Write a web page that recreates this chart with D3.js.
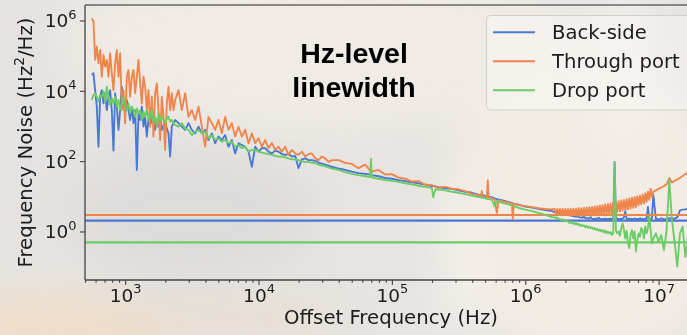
<!DOCTYPE html>
<html>
<head>
<meta charset="utf-8">
<script src="https://cdn.jsdelivr.net/npm/d3@7"></script>
<style>
  html, body { margin: 0; padding: 0; background: #e8e5e2; }
  svg { display: block; }
</style>
</head>
<body>
<svg id="chart" width="687" height="335"></svg>
<script>
// Offset frequency grid, stored as log10(Hz)
const offsetExp = [
  2.75,2.7625,2.775,2.7875,2.8,2.8125,2.825,2.8375,2.85,2.8625,
  2.875,2.8875,2.9,2.9125,2.925,2.9375,2.95,2.9625,2.975,2.9875,
  3,3.0125,3.025,3.0375,3.05,3.0625,3.075,3.0875,3.1,3.1125,
  3.125,3.1375,3.15,3.1625,3.175,3.1875,3.2,3.2125,3.225,3.2375,
  3.25,3.2625,3.275,3.2875,3.3,3.3125,3.325,3.3375,3.35,3.3625,
  3.375,
  3.4,3.425,3.45,3.475,3.5,3.525,
  3.55,3.575,3.6,3.625,3.65,3.675,3.7,3.725,3.75,3.775,
  3.8,3.825,3.85,3.875,3.9,3.925,3.95,3.975,4,4.025,
  4.05,4.075,4.1,4.125,4.15,4.175,4.2,4.225,4.25,4.275,
  4.3,4.325,4.35,4.375,4.4,4.425,4.45,4.475,4.5,4.525,
  4.55,
  4.6,4.65,4.7,4.75,4.8,4.836,4.843,4.85,4.9,4.95,
  5,5.05,5.1,5.15,5.2,5.25,5.3,5.31,5.325,5.35,
  5.4,5.45,5.5,5.55,5.6,5.65,5.67,5.674,5.68,5.7,
  5.712,5.719,5.726,5.75,5.77,5.787,5.8,5.85,5.9,5.906,
  5.915,5.95,6,6.05,6.1,6.15,6.2,
  6.22,6.23,6.24,6.25,6.26,6.27,6.28,6.29,6.3,6.31,
  6.32,6.33,6.34,6.35,6.36,6.37,6.38,6.39,6.4,6.41,
  6.42,6.43,6.44,6.45,6.46,6.47,6.48,6.49,6.5,6.51,
  6.52,6.53,6.54,6.55,6.56,6.57,6.58,6.59,6.6,6.61,
  6.62,6.63,6.64,6.65,6.66,6.67,6.68,6.69,6.7,6.71,
  6.72,6.73,6.74,6.75,6.76,6.77,6.78,6.79,6.8,6.81,
  6.82,6.83,6.84,6.85,6.86,6.87,6.88,6.89,6.9,6.91,
  6.92,6.93,6.94,6.95,6.96,
  6.98,7,7.02,7.04,7.06,7.08,7.1,7.12,7.14,7.16,7.18,7.2,7.22
];

// Frequency noise, log10(Hz^2/Hz), one value per grid point
const backSideExp = [
  4.45,4.50,4.02,3.55,2.41,3.83,4.02,3.64,3.93,3.45,
  3.83,4.02,3.45,2.30,3.93,3.55,2.89,3.45,4.12,3.64,
  3.36,3.74,3.45,3.17,3.55,3.08,3.45,1.75,3.36,3.17,
  3.55,2.98,3.26,2.70,3.17,3.45,3.08,3.26,2.89,3.17,
  2.98,3.17,2.89,3.03,3.08,2.93,2.79,2.13,2.98,3.08,
  3.17,
  3.08,2.98,2.89,3.08,2.89,2.79,
  2.98,2.79,2.89,2.60,2.79,2.51,2.70,2.60,2.74,2.41,
  2.60,2.22,2.51,2.46,2.41,2.27,1.84,2.41,2.27,2.37,
  2.37,2.27,2.22,2.30,2.27,2.20,2.18,2.20,2.13,2.15,
  1.80,2.05,2.08,2.03,2.03,2.01,1.96,1.93,1.90,1.87,
  1.84,
  1.79,1.75,1.70,1.66,1.64,1.62,1.61,1.60,1.57,1.52,
  1.50,1.46,1.43,1.40,1.37,1.33,1.29,1.29,1.28,1.26,
  1.23,1.21,1.17,1.13,1.10,1.05,1.04,1.03,1.03,1.01,
  1.00,0.99,0.99,0.97,0.94,0.92,0.91,0.86,0.81,0.80,
  0.79,0.76,0.71,0.68,0.64,0.61,0.58,
  0.55,0.54,0.53,0.53,0.51,0.50,0.50,0.49,0.48,0.48,
  0.47,0.46,0.46,0.44,0.44,0.43,0.42,0.43,0.41,0.40,
  0.40,0.39,0.42,0.38,0.38,0.37,0.37,0.41,0.36,0.36,
  0.35,0.37,0.35,0.39,0.36,0.34,0.36,0.35,0.37,0.34,
  0.36,0.35,0.37,0.35,0.36,1.98,0.35,0.37,0.34,0.36,
  0.35,0.37,0.40,0.58,0.36,0.34,0.37,0.35,0.36,0.34,
  0.37,0.35,0.36,0.34,0.38,0.35,0.36,0.34,0.37,0.36,
  0.70,0.36,0.35,0.38,1.04,
  0.36,0.34,0.37,0.35,0.36,0.38,0.36,0.37,0.40,0.60,0.62,0.63,0.65
];

const throughPortExp = [
  6.06,5.97,4.88,5.26,4.78,5.16,4.40,5.02,4.69,4.88,
  4.40,5.07,4.50,4.02,4.78,5.16,4.40,5.07,3.45,4.02,
  3.08,4.40,4.59,3.83,4.40,4.59,3.93,4.40,4.88,4.21,
  3.64,4.40,4.12,3.45,4.02,2.98,3.83,2.70,3.93,4.21,
  3.45,2.60,3.83,3.26,2.32,3.64,4.12,3.45,3.93,3.45,
  3.74,
  4.02,3.45,3.93,3.26,3.45,3.17,
  3.55,2.98,2.41,3.26,3.08,2.89,3.17,2.79,3.26,2.89,
  3.08,2.70,2.98,2.70,2.89,2.51,2.79,2.51,2.65,2.41,
  2.60,2.37,2.51,2.32,2.41,2.27,2.41,2.18,2.32,2.22,
  2.18,2.27,2.13,2.20,2.22,2.08,2.03,2.13,2.08,1.98,
  2.03,
  2.03,1.95,1.92,1.80,1.90,1.74,1.72,1.70,1.75,1.62,
  1.63,1.53,1.50,1.42,1.43,1.33,1.32,1.30,1.27,1.24,
  1.27,1.22,1.20,1.15,1.07,1.03,1.01,1.15,1.00,0.97,
  0.97,1.46,0.96,0.95,0.91,0.53,0.89,0.84,0.80,0.36,
  0.79,0.75,0.72,0.69,0.66,0.64,0.63,
  0.64,0.52,0.64,0.50,0.64,0.49,0.64,0.48,0.64,0.47,
  0.64,0.46,0.65,0.46,0.65,0.46,0.65,0.45,0.66,0.45,
  0.66,0.45,0.67,0.45,0.68,0.45,0.69,0.45,0.70,0.46,
  0.71,0.46,0.72,0.46,0.74,0.47,0.75,0.48,0.77,0.49,
  0.78,0.50,0.80,0.51,0.82,0.53,0.84,0.55,0.86,0.57,
  0.88,0.59,0.90,0.61,0.92,0.63,0.94,0.65,0.96,0.67,
  0.98,0.69,1.00,0.74,1.02,0.77,1.05,0.80,1.08,0.84,
  1.13,0.90,1.22,0.98,1.13,
  1.17,1.21,1.25,1.29,1.34,1.52,1.39,1.44,1.48,1.52,1.58,1.63,1.69
];

const dropPortExp = [
  3.74,3.88,3.93,3.83,3.69,3.88,3.83,3.98,3.69,4.12,
  3.83,3.60,3.79,3.64,3.83,3.55,3.74,3.45,3.64,3.83,
  3.55,3.45,3.64,3.36,3.55,3.45,3.26,3.50,3.36,3.45,
  3.17,3.41,3.26,3.45,3.17,3.31,3.45,3.08,3.26,2.98,
  3.36,3.17,3.26,3.17,3.08,3.22,3.26,3.12,3.17,3.08,
  3.03,
  2.98,3.08,2.93,2.89,2.74,2.84,
  2.89,2.79,2.84,2.65,2.74,2.60,2.65,2.55,2.60,2.51,
  2.55,2.41,2.46,2.37,2.41,2.27,2.32,2.33,2.27,2.24,
  2.22,2.20,2.18,2.15,2.13,2.13,2.11,2.08,2.05,2.05,
  2.03,2.00,1.98,1.97,1.96,1.94,1.90,1.87,1.85,1.82,
  1.79,
  1.75,1.69,1.64,1.60,1.57,1.55,2.06,1.53,1.50,1.46,
  1.44,1.41,1.37,1.34,1.30,1.27,1.23,0.97,1.19,1.20,
  1.17,1.13,1.10,1.06,1.02,0.98,0.97,0.96,0.96,0.94,
  0.93,0.92,0.92,0.90,0.72,0.87,0.85,0.79,0.74,0.73,
  0.72,0.67,0.62,0.58,0.53,0.47,0.41,
  0.41,0.37,0.40,0.35,0.36,0.32,0.35,0.31,0.30,0.29,
  0.30,0.24,0.28,0.23,0.26,0.20,0.24,0.19,0.22,0.16,
  0.19,0.15,0.18,0.12,0.16,0.10,0.14,0.09,0.12,0.06,
  0.10,0.04,0.08,0.02,0.06,0.00,0.04,-0.03,0.03,-0.05,
  0.00,-0.06,-0.02,-0.10,-0.05,1.96,0.02,-0.05,0.00,-0.12,
  0.10,0.23,0.05,-0.20,0.02,-0.30,-0.48,-0.10,0.04,-0.20,
  0.00,-0.57,-0.25,-0.05,-0.15,0.10,0.04,-0.20,0.14,-0.05,
  0.10,0.42,0.05,-0.34,-0.20,
  -0.05,-0.29,-0.10,-0.53,0.04,1.46,0.33,-0.30,-1.00,-0.05,0.14,-0.72,-0.15
];

// Flat reference levels (Hz^2/Hz), one per trace
const flatLevels = [2.03, 2.94, 0.49];

const seriesNames = ["Back-side", "Through port", "Drop port"];
const seriesColors = ["#4878d0", "#ee854a", "#6acc64"];

const xTickValues = [1e3, 1e4, 1e5, 1e6, 1e7];
const yTickValues = [1e0, 1e2, 1e4, 1e6];

const xLabel = "Offset Frequency (Hz)";
const annotationLines = ["Hz-level", "linewidth"];

// ---------------------------------------------------------------
const W = 687, H = 335;
const plot = { left: 85, right: 697, top: 5, bottom: 280 };
const FONT = "'DejaVu Sans', sans-serif";
const INK = "#1c1c1c";
const SPINE = "#444";

const svg = d3.select("#chart");
const defs = svg.append("defs");

// soft, out-of-focus backdrop
const soft = defs.append("filter").attr("id", "soft")
  .attr("x", "-50%").attr("y", "-50%").attr("width", "200%").attr("height", "200%");
soft.append("feGaussianBlur").attr("stdDeviation", 22);

svg.append("rect").attr("width", W).attr("height", H).attr("fill", "#e7e4e1");
const haze = svg.append("g").attr("filter", "url(#soft)");
const blobs = [
  { cx: 330, cy: 45, rx: 270, ry: 85, fill: "#f1ebe5", o: 0.95 },
  { cx: 590, cy: 215, rx: 150, ry: 150, fill: "#f2ece5", o: 0.95 },
  { cx: 190, cy: 215, rx: 120, ry: 65, fill: "#dad9d9", o: 0.8 },
  { cx: 50, cy: 335, rx: 120, ry: 40, fill: "#f1dcc2", o: 0.8 },
  { cx: 230, cy: 322, rx: 110, ry: 22, fill: "#eadac6", o: 0.6 },
  { cx: 625, cy: 60, rx: 24, ry: 95, fill: "#f6f2ee", o: 0.8 },
  { cx: 455, cy: 265, rx: 18, ry: 80, fill: "#f5f1ec", o: 0.8 },
  { cx: 30, cy: 120, rx: 40, ry: 140, fill: "#e3e2e1", o: 0.8 }
];
haze.selectAll("ellipse").data(blobs).join("ellipse")
  .attr("cx", d => d.cx).attr("cy", d => d.cy)
  .attr("rx", d => d.rx).attr("ry", d => d.ry)
  .attr("fill", d => d.fill).attr("opacity", d => d.o);

// scales
const x = d3.scaleLog().domain([500, 1.94e7]).range([plot.left, plot.right]);
const y = d3.scaleLog().domain([Math.pow(10, -1.38), Math.pow(10, 6.44)]).range([plot.bottom, plot.top]);

defs.append("clipPath").attr("id", "plotClip")
  .append("rect")
  .attr("x", plot.left).attr("y", plot.top)
  .attr("width", plot.right - plot.left).attr("height", plot.bottom - plot.top);

const series = [backSideExp, throughPortExp, dropPortExp].map((vals, i) => ({
  name: seriesNames[i],
  color: seriesColors[i],
  level: flatLevels[i],
  points: offsetExp.map((fe, j) => ({ f: Math.pow(10, fe), v: Math.pow(10, vals[j]) }))
}));

const line = d3.line().x(d => x(d.f)).y(d => y(d.v));
const traces = svg.append("g").attr("clip-path", "url(#plotClip)");
series.forEach(s => {
  traces.append("path")
    .attr("d", line(s.points))
    .attr("fill", "none")
    .attr("stroke", s.color)
    .attr("stroke-width", 1.85)
    .attr("stroke-linejoin", "round");
  traces.append("line")
    .attr("x1", x.range()[0]).attr("x2", x.range()[1])
    .attr("y1", y(s.level)).attr("y2", y(s.level))
    .attr("stroke", s.color)
    .attr("stroke-width", 2.1);
});

// axes
function powerLabel(textSel) {
  textSel.each(function (d) {
    const t = d3.select(this);
    const e = Math.round(Math.log10(d));
    t.text(null);
    t.append("tspan").text("10");
    t.append("tspan").attr("dy", -8.5).attr("font-size", 13).text(e);
  });
}

const minorX = x.ticks().filter(v => Math.abs(Math.log10(v) - Math.round(Math.log10(v))) > 1e-6);

const xAxis = svg.append("g").attr("transform", `translate(0,${plot.bottom})`)
  .call(d3.axisBottom(x).tickValues(xTickValues).tickSize(5).tickPadding(3.5).tickFormat(() => ""));
const xMinor = svg.append("g").attr("transform", `translate(0,${plot.bottom})`)
  .call(d3.axisBottom(x).tickValues(minorX).tickSize(2.8).tickFormat(() => ""));
const yAxis = svg.append("g").attr("transform", `translate(${plot.left},0)`)
  .call(d3.axisLeft(y).tickValues(yTickValues).tickSize(5).tickPadding(3.5).tickFormat(() => ""));

[xAxis, xMinor, yAxis].forEach(g => {
  g.select(".domain").remove();
  g.selectAll(".tick line").attr("stroke", SPINE).attr("stroke-width", 1.1);
  g.selectAll("text").attr("font-family", FONT).attr("font-size", 18.5).attr("fill", INK);
});
xMinor.selectAll("text").remove();
xAxis.selectAll(".tick text").call(powerLabel);
yAxis.selectAll(".tick text").attr("dy", "0.34em").call(powerLabel);

// spines
const spines = svg.append("g").attr("stroke", SPINE).attr("stroke-width", 1.3).attr("fill", "none");
spines.append("line").attr("x1", plot.left).attr("x2", plot.left).attr("y1", plot.top).attr("y2", plot.bottom);
spines.append("line").attr("x1", plot.left).attr("x2", plot.right).attr("y1", plot.bottom).attr("y2", plot.bottom);
spines.append("line").attr("x1", plot.left).attr("x2", plot.right).attr("y1", plot.top).attr("y2", plot.top).attr("stroke", "#666");
spines.append("line").attr("x1", plot.right).attr("x2", plot.right).attr("y1", plot.top).attr("y2", plot.bottom);

// axis titles
svg.append("text")
  .attr("x", (plot.left + plot.right) / 2).attr("y", 324)
  .attr("text-anchor", "middle")
  .attr("font-family", FONT).attr("font-size", 19.7).attr("fill", INK)
  .text(xLabel);

const yTitle = svg.append("text")
  .attr("transform", `translate(32,${(plot.top + plot.bottom) / 2}) rotate(-90)`)
  .attr("text-anchor", "middle")
  .attr("font-family", FONT).attr("font-size", 19.7).attr("fill", INK);
yTitle.append("tspan").text("Frequency Noise (Hz");
yTitle.append("tspan").attr("dy", -8).attr("font-size", 13.8).text("2");
yTitle.append("tspan").attr("dy", 8).text("/Hz)");

// annotation
const note = svg.append("text")
  .attr("text-anchor", "middle")
  .attr("font-family", "'Liberation Sans', Arial, sans-serif")
  .attr("font-weight", "bold").attr("font-size", 28.5).attr("fill", "#000");
annotationLines.forEach((t, i) => {
  note.append("tspan").attr("x", 354).attr("y", 63 + i * 34).text(t);
});

// legend
const legend = svg.append("g");
legend.append("rect")
  .attr("x", 486.5).attr("y", 15.5).attr("width", 240).attr("height", 94.5).attr("rx", 4)
  .attr("fill", "#ffffff").attr("fill-opacity", 0.3)
  .attr("stroke", "#d3cfcb").attr("stroke-width", 1);
series.forEach((s, i) => {
  const cy = 32.3 + i * 29;
  legend.append("line")
    .attr("x1", 493).attr("x2", 535).attr("y1", cy).attr("y2", cy)
    .attr("stroke", s.color).attr("stroke-width", 2);
  legend.append("text")
    .attr("x", 552).attr("y", cy + 7)
    .attr("font-family", FONT).attr("font-size", 19.6).attr("fill", INK)
    .text(s.name);
});
</script>
</body>
</html>
